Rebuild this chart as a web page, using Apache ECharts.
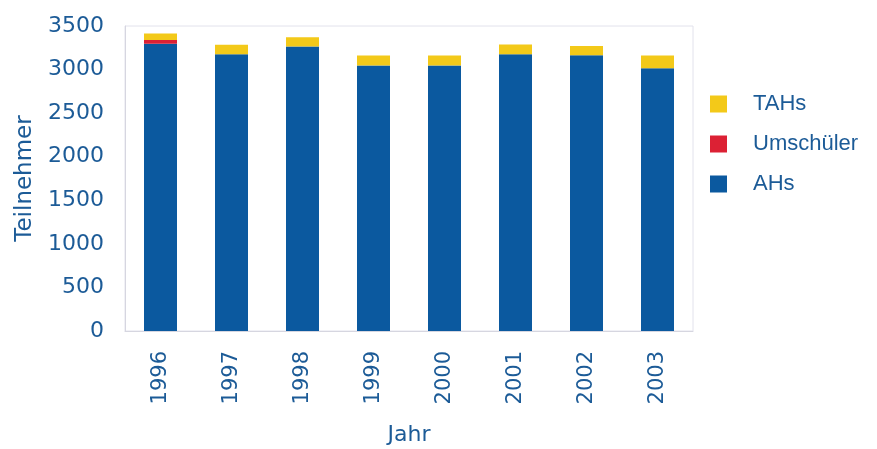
<!DOCTYPE html>
<html>
<head>
<meta charset="utf-8">
<script src="https://cdn.jsdelivr.net/npm/echarts@6/dist/echarts.min.js"></script>
<style>
  html, body { margin: 0; padding: 0; background: #fff; }
  #chart { width: 877px; height: 449px; }
</style>
</head>
<body>
<div id="chart"></div>
<script>
  var years = ['1996', '1997', '1998', '1999', '2000', '2001', '2002', '2003'];
  var ahs = [3295, 3177, 3264, 3046, 3046, 3177, 3165, 3016];
  var umschueler = [45, 0, 0, 0, 0, 0, 0, 0];
  var tahs = [75, 107, 108, 115, 115, 110, 105, 145];
  var yTicks = [0, 500, 1000, 1500, 2000, 2500, 3000, 3500];

  var textBlue = '#1c5b97';
  var fontFam = '"DejaVu Sans", Verdana, sans-serif';

  var myChart = echarts.init(document.getElementById('chart'));
  var option = {
    animation: false,
    grid: {
      left: 125, right: 184, top: 26, bottom: 118,
      outerBoundsMode: 'none',
      containLabel: false,
      show: true,
      borderColor: '#e2e2ec',
      borderWidth: 1
    },
    legend: {
      orient: 'vertical',
      left: 705,
      top: 88,
      itemWidth: 17,
      itemHeight: 17,
      itemGap: 18,
      icon: 'rect',
      data: ['TAHs', 'Umschüler', 'AHs'],
      textStyle: {
        color: textBlue,
        fontSize: 22,
        fontFamily: 'Liberation Sans, Arial, sans-serif',
        padding: [0, 0, 0, 21]
      }
    },
    xAxis: {
      type: 'category',
      data: years,
      name: 'Jahr',
      nameLocation: 'middle',
      nameGap: 93,
      nameTextStyle: { color: textBlue, fontSize: 22, fontFamily: fontFam },
      axisLine: { lineStyle: { color: '#d6d6e0' } },
      axisTick: { show: false },
      axisLabel: {
        rotate: 90,
        color: textBlue,
        fontSize: 21,
        fontFamily: fontFam,
        margin: 20
      }
    },
    yAxis: {
      type: 'value',
      min: yTicks[0],
      max: yTicks[yTicks.length - 1],
      interval: 500,
      name: 'Teilnehmer',
      nameLocation: 'middle',
      nameGap: 88,
      nameTextStyle: { color: textBlue, fontSize: 23, fontFamily: fontFam },
      axisLine: { show: true, lineStyle: { color: '#d6d6e0' } },
      axisTick: { show: false },
      splitLine: { show: false },
      axisLabel: {
        color: textBlue,
        fontSize: 22,
        fontFamily: fontFam,
        margin: 21,
        formatter: function (v) { return String(v); }
      }
    },
    series: [
      {
        name: 'AHs', type: 'bar', stack: 'total', data: ahs,
        barWidth: 33,
        itemStyle: { color: '#0b599f' }
      },
      {
        name: 'Umschüler', type: 'bar', stack: 'total', data: umschueler,
        itemStyle: { color: '#dc2134' }
      },
      {
        name: 'TAHs', type: 'bar', stack: 'total', data: tahs,
        itemStyle: { color: '#f3c919' }
      }
    ]
  };
  myChart.setOption(option);
</script>
</body>
</html>
